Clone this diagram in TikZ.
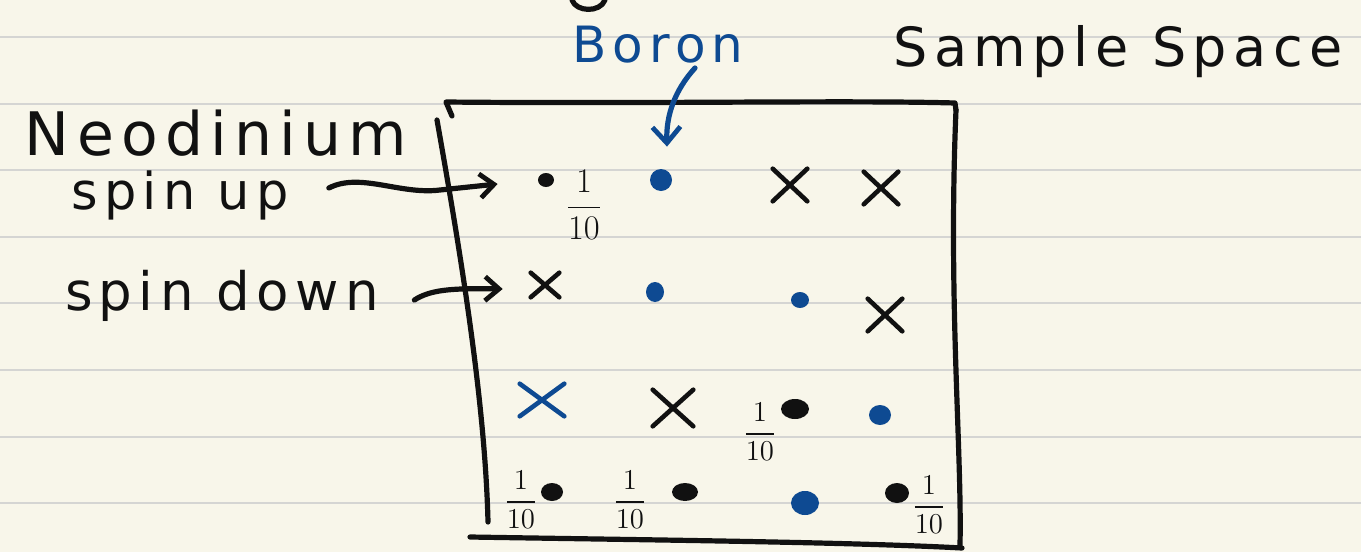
\documentclass[tikz,border=0pt]{standalone}
\usepackage{amsmath}
\usepackage{fontspec}
\setmainfont{DejaVu Sans}
\newfontfamily\handfont[LetterSpace=12]{DejaVu Sans}
\usepackage{xcolor}
\usetikzlibrary{arrows.meta,calc,shapes.geometric,shapes.misc}
\definecolor{paper}{HTML}{F8F6EA}
\definecolor{ruling}{HTML}{D5D5D3}
\definecolor{ink}{HTML}{111111}
\definecolor{penblue}{HTML}{0E4A92}
\tikzset{
  hand/.style={text=ink,inner sep=0pt},
  bluehand/.style={text=penblue,inner sep=0pt},
  pen/.style={draw=ink,line width=2.6pt,line cap=round,line join=round},
  bluepen/.style={draw=penblue,line width=2.6pt,line cap=round,line join=round},
  inkdot/.style={ellipse,fill=ink,inner sep=0pt,minimum width=11pt,minimum height=9pt},
  bluedot/.style={ellipse,fill=penblue,inner sep=0pt,minimum width=11pt,minimum height=10pt},
  inkcross/.style={cross out,draw=ink,line width=2.3pt,line cap=round,inner sep=0pt,
                   minimum width=15pt,minimum height=14pt},
  bluecross/.style={inkcross,draw=penblue},
  frac/.style={text=ink,inner sep=0pt,font=\fontsize{15}{17}\selectfont},
  inkarr/.style={pen,-{Straight Barb[length=7pt,width=12pt,line width=2.4pt]}},
  bluearr/.style={bluepen,-{Straight Barb[length=8pt,width=14pt,line width=2.4pt]}}
}
\begin{document}
\begin{tikzpicture}[x=0.5pt,y=-0.5pt]
    \fill[paper] (0,0) rectangle (1361,552);
    \useasboundingbox (0,0) rectangle (1361,552);
    \foreach \ry in {37,103.6,170.2,236.8,303.4,370,436.6,503.2}
      \draw[ruling,line width=1pt] (0,\ry) -- (1361,\ry);
    \draw[pen] (572,0) .. controls (576,12) and (600,13) .. (605,0);
    \node[hand,font=\handfont\fontsize{30}{34}\selectfont] (neo) at (216,133) {Neodinium};
    \node[hand,font=\handfont\fontsize{25.5}{30}\selectfont] (up) at (180,195) {spin up};
    \node[hand,font=\handfont\fontsize{26.5}{30}\selectfont] (down) at (222,296) {spin down};
    \node[bluehand,font=\handfont\fontsize{25}{30}\selectfont] (boron) at (658,45) {Boron};
    \node[hand,font=\handfont\fontsize{27}{30}\selectfont] (sample) at (1118,52) {Sample Space};
    \draw[pen] (452,116) -- (446,102) .. controls (650,104) and (850,100) .. (955,103) -- (956,110);
    \draw[pen] (956,110) .. controls (948,300) and (962,450) .. (960,545);
    \draw[pen] (437,120) .. controls (460,250) and (485,400) .. (488,522);
    \draw[pen] (470,537) .. controls (650,540) and (850,542) .. (962,548);
    \node[inkdot,minimum width=8pt,minimum height=7pt] (a1) at (546,180) {};
    \node[bluedot,minimum height=11pt] (a2) at (661,180) {};
    \node[inkcross] (a3) at (790,185) {};
    \node[inkcross] (a4) at (881,188) {};
    \node[inkcross,minimum width=12pt,minimum height=10pt] (b1) at (545,285) {};
    \node[bluedot,minimum width=9pt] (b2) at (655,292) {};
    \node[bluedot,minimum width=9pt,minimum height=8pt] (b3) at (800,300) {};
    \node[inkcross] (b4) at (885,315) {};
    \node[bluecross,minimum width=20pt] (c1) at (542,400) {};
    \node[inkcross,minimum width=18pt,minimum height=16pt] (c2) at (673,408) {};
    \node[inkdot,minimum width=14pt,minimum height=10pt] (c3) at (795,409) {};
    \node[bluedot] (c4) at (880,415) {};
    \node[inkdot] (d1) at (552,492) {};
    \node[inkdot,minimum width=13pt] (d2) at (685,492) {};
    \node[bluedot,minimum width=14pt,minimum height=12pt] (d3) at (805,503) {};
    \node[inkdot,minimum width=12pt,minimum height=10pt] (d4) at (897,493) {};
    \node[frac,font=\fontsize{18}{20}\selectfont] (fa1) at (584,205) {$\dfrac{1}{10}$};
    \node[frac] (fc3) at (760,432) {$\dfrac{1}{10}$};
    \node[frac] (fd1) at (521,500) {$\dfrac{1}{10}$};
    \node[frac] (fd2) at (630,500) {$\dfrac{1}{10}$};
    \node[frac] (fd4) at (929,505) {$\dfrac{1}{10}$};
    \draw[inkarr] ($(up.east)+(40,-7)$) .. controls (360,172) and (400,195) .. (440,190)
      -- ($(a1.west)+(-40,4)$);
    \draw[inkarr] ($(down.east)+(35,4)$) .. controls (430,290) and (450,288) .. ($(b1.west)+(-28,4)$);
    \draw[bluearr] ($(boron.south)+(37,4)$) .. controls (675,90) and (666,115) .. ($(a2.north)+(6,-22)$);
\end{tikzpicture}
\end{document}
